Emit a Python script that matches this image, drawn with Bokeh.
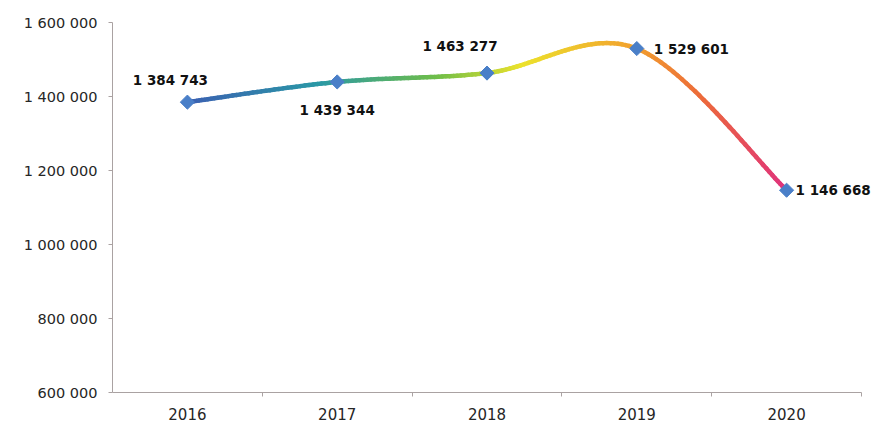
import numpy as np
from bokeh.plotting import figure
from bokeh.models import FixedTicker, Label
from bokeh.embed import file_html
from bokeh.resources import INLINE

# ---- data ----
years = ["2016", "2017", "2018", "2019", "2020"]
values = [1384743, 1439344, 1463277, 1529601, 1146668]
y_ticks = [600000, 800000, 1000000, 1200000, 1400000, 1600000]

# ---- label styling (pixel offsets / alignment) ----
label_dx = [-17, 0, -27, 17, 9]
label_dy = [22, -28, 27, 0, 0]
label_align = ["center", "center", "center", "left", "left"]

grad_stops = [0.0, 0.22, 0.42, 0.56, 0.75, 0.86, 1.0]
grad_cols = ["#3b5fb2", "#2a98a6", "#6fbe48", "#ece22c", "#f2a02e", "#ec6a3a", "#e0337c"]


def fmt(v):
    return f"{v:,}".replace(",", " ")


xs = [i + 0.5 for i in range(len(years))]
pts = np.array(list(zip(xs, values)), dtype=float)

W, H = 871, 422
left, top, bottom = 112, 22, 30
axis_px = 749  # pixel length of the category axis
frame_px = W - left
x_end = len(years) * frame_px / axis_px

p = figure(width=W, height=H, x_range=(0, x_end), y_range=(y_ticks[0], y_ticks[-1]),
           output_backend="svg", toolbar_location=None,
           min_border_left=left, min_border_right=0, min_border_top=top, min_border_bottom=bottom)
p.outline_line_color = None
p.grid.visible = False
p.background_fill_color = "white"

# smooth curve (Catmull-Rom style Bezier, like spreadsheet smoothing)
n = len(pts)
curve = []
for i in range(n - 1):
    p0 = pts[i - 1] if i > 0 else pts[i]
    p1 = pts[i]
    p2 = pts[i + 1]
    p3 = pts[i + 2] if i + 2 < n else pts[i + 1]
    c1 = p1 + (p2 - p0) / 6.0
    c2 = p2 - (p3 - p1) / 6.0
    ts = np.linspace(0, 1, 41)
    if i < n - 2:
        ts = ts[:-1]
    for t in ts:
        b = ((1 - t) ** 3) * p1 + 3 * ((1 - t) ** 2) * t * c1 + 3 * (1 - t) * t * t * c2 + t ** 3 * p2
        curve.append(b)
curve = np.array(curve)


def hex2rgb(h):
    h = h.lstrip("#")
    return np.array([int(h[k:k + 2], 16) for k in (0, 2, 4)], dtype=float)


stop_rgb = [hex2rgb(c) for c in grad_cols]


def grad(f):
    f = min(max(f, 0.0), 1.0)
    for k in range(len(grad_stops) - 1):
        if grad_stops[k] <= f <= grad_stops[k + 1]:
            u = (f - grad_stops[k]) / (grad_stops[k + 1] - grad_stops[k])
            c = stop_rgb[k] * (1 - u) + stop_rgb[k + 1] * u
            return "#%02x%02x%02x" % tuple(int(round(v)) for v in c)
    return grad_cols[-1]


seg_x, seg_y, seg_c = [], [], []
for k in range(len(curve) - 1):
    seg_x.append([curve[k, 0], curve[k + 1, 0]])
    seg_y.append([curve[k, 1], curve[k + 1, 1]])
    fx = ((curve[k, 0] + curve[k + 1, 0]) / 2 - xs[0]) / (xs[-1] - xs[0])
    seg_c.append(grad(fx))

p.multi_line(xs=seg_x, ys=seg_y, line_color=seg_c, line_width=4.5, line_cap="round")

p.scatter(xs, values, marker="square", angle=np.pi / 4, size=10,
          fill_color="#4a7fc8", line_color="#4a7fc8")

for x, v, dx, dy, al in zip(xs, values, label_dx, label_dy, label_align):
    p.add_layout(Label(x=x, y=v, text=fmt(v), x_offset=dx, y_offset=dy,
                       text_align=al, text_baseline="middle",
                       text_font="DejaVu Sans", text_font_style="bold",
                       text_font_size="13.5px", text_color="#111111"))

axis_col = "#aaa2a2"
# y axis
p.yaxis.ticker = FixedTicker(ticks=y_ticks)
p.yaxis.major_label_overrides = {t: fmt(t) for t in y_ticks}
p.yaxis.axis_line_color = axis_col
p.yaxis.major_tick_line_color = axis_col
p.yaxis.major_tick_out = 4
p.yaxis.major_tick_in = 0
p.yaxis.minor_tick_line_color = None
p.yaxis.major_label_standoff = 11
p.yaxis.major_label_text_font = "DejaVu Sans"
p.yaxis.major_label_text_font_size = "14.5px"
p.yaxis.major_label_text_color = "#262626"

# x axis
p.xaxis.bounds = (0, len(years))
p.xaxis.ticker = FixedTicker(ticks=xs, minor_ticks=[float(i) for i in range(1, len(years) + 1)])
p.xaxis.major_label_overrides = {x: y for x, y in zip(xs, years)}
p.xaxis.axis_line_color = axis_col
p.xaxis.major_tick_line_color = None
p.xaxis.major_tick_out = 0
p.xaxis.major_tick_in = 0
p.xaxis.minor_tick_line_color = axis_col
p.xaxis.minor_tick_out = 4
p.xaxis.minor_tick_in = 0
p.xaxis.major_label_standoff = 11
p.xaxis.major_label_text_font = "DejaVu Sans"
p.xaxis.major_label_text_font_size = "15px"
p.xaxis.major_label_text_color = "#262626"

open("out.html", "w").write(file_html(p, INLINE))
